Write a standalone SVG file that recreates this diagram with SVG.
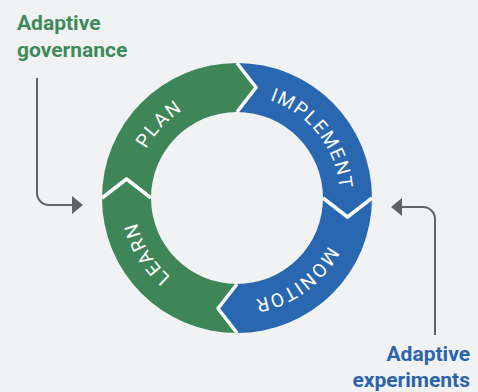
<svg xmlns="http://www.w3.org/2000/svg" xmlns:xlink="http://www.w3.org/1999/xlink" width="478" height="392" viewBox="0 0 478 392">
  <style>
    .green { fill: #3e8657; }
    .blue { fill: #2967b0; }
    .sep { fill: none; stroke: #ffffff; stroke-width: 3.5; stroke-linejoin: round; }
    .ringlabel { font-family: Roboto, "Liberation Sans", sans-serif; font-size: 19px; fill: #ffffff; letter-spacing: 1.5px; text-anchor: middle; }
    .caption { font-family: Roboto, "Liberation Sans", sans-serif; font-size: 21px; font-weight: bold; }
    .conn { fill: none; stroke: #5f6368; stroke-width: 2; marker-end: url(#arrow); }
  </style>
  <defs>
    <marker id="arrow" markerUnits="userSpaceOnUse" viewBox="0 0 11 18" markerWidth="11" markerHeight="18" refX="0" refY="9" orient="auto">
      <path d="M0,0 L11,9 L0,18 Z" fill="#5f6368"/>
    </marker>
    <path id="labelCircle" d="M 134,198 A 103 103 0 1 1 340,198 A 103 103 0 1 1 134,198"/>
  </defs>
  <rect x="0" y="0" width="478" height="392" fill="#f1f2f4"/>

  <g id="plan">
    <path class="green" d="M 102,198 A 135 135 0 0 1 237,63 L 256,87.5 L 237,112 A 86 86 0 0 0 151,198 L 126.5,179 Z"/>
    <text class="ringlabel"><textPath href="#labelCircle" startOffset="78">PLAN</textPath></text>
  </g>
  <g id="implement">
    <path class="blue" d="M 237,63 A 135 135 0 0 1 372,198 L 347.5,217 L 323,198 A 86 86 0 0 0 237,112 L 256,87.5 Z"/>
    <text class="ringlabel"><textPath href="#labelCircle" startOffset="255">IMPLEMENT</textPath></text>
  </g>
  <g id="monitor">
    <path class="blue" d="M 372,198 A 135 135 0 0 1 237,333 L 218,308.5 L 237,284 A 86 86 0 0 0 323,198 L 347.5,217 Z"/>
    <text class="ringlabel"><textPath href="#labelCircle" startOffset="420">MONITOR</textPath></text>
  </g>
  <g id="learn">
    <path class="green" d="M 237,333 A 135 135 0 0 1 102,198 L 126.5,179 L 151,198 A 86 86 0 0 0 237,284 L 218,308.5 Z"/>
    <text class="ringlabel"><textPath href="#labelCircle" startOffset="590">LEARN</textPath></text>
  </g>
  <g id="separators">
    <polyline class="sep" points="102,198 126.5,179 151,198"/>
    <polyline class="sep" points="237,63 256,87.5 237,112"/>
    <polyline class="sep" points="372,198 347.5,217 323,198"/>
    <polyline class="sep" points="237,333 218,308.5 237,284"/>
  </g>

  <g id="adaptive-governance">
    <text class="caption" fill="#3e8a5a" x="17" y="30">Adaptive</text>
    <text class="caption" fill="#3e8a5a" x="17" y="57">governance</text>
  </g>
  <g id="adaptive-experiments">
    <text class="caption" fill="#2a64ad" x="470" y="361" text-anchor="end">Adaptive</text>
    <text class="caption" fill="#2a64ad" x="470" y="387" text-anchor="end">experiments</text>
  </g>

  <g id="connectors">
    <path class="conn" d="M 37,78 V 193 A 12 12 0 0 0 49,205 H 72"/>
    <path class="conn" d="M 435,335 V 219 A 12 12 0 0 0 423,207 H 402"/>
  </g>
</svg>
